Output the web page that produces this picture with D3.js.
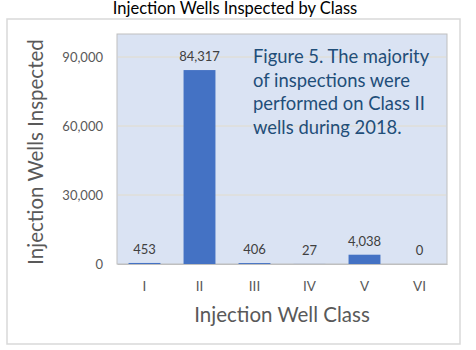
<!DOCTYPE html>
<html><head><meta charset="utf-8">
<script src="https://cdn.jsdelivr.net/npm/d3@7"></script>
<style>body{margin:0;background:#fff}svg{display:block}text{font-family:Lato,"Open Sans",sans-serif}</style>
</head><body>
<script>
const categories = ["I","II","III","IV","V","VI"];
const values = [453, 84317, 406, 27, 4038, 0];
const yTicks = [0, 30000, 60000, 90000];
const title = "Injection Wells Inspected by Class";
const xTitle = "Injection Well Class";
const yTitle = "Injection Wells Inspected";
const note = ["Figure 5. The majority","of inspections were","performed on Class II","wells during 2018."];

const W = 476, H = 350;
const m = {left:117, right:447, top:34, bottom:264};
const svg = d3.select("body").append("svg").attr("width",W).attr("height",H);

svg.append("text").attr("x",235).attr("y",14).attr("text-anchor","middle")
  .attr("font-size",16.5).attr("fill","#000").text(title);

svg.append("rect").attr("x",7).attr("y",19).attr("width",453).attr("height",325)
  .attr("fill","#fff").attr("stroke","#d9d9d9").attr("stroke-width",1.5);

const x = d3.scaleBand().domain(categories).range([m.left,m.right]).paddingInner(0.42).paddingOuter(0.21);
const y = d3.scaleLinear().domain([0,100000]).range([m.bottom,m.top]);

svg.append("rect").attr("x",m.left).attr("y",m.top).attr("width",m.right-m.left).attr("height",m.bottom-m.top)
  .attr("fill","#dae3f3").attr("stroke","#bfbfbf").attr("stroke-width",1);

svg.append("g").selectAll("line").data(yTicks.filter(d=>d>0)).join("line")
  .attr("x1",m.left+1).attr("x2",m.right-1).attr("y1",d=>y(d)).attr("y2",d=>y(d))
  .attr("stroke","#e2dccb").attr("stroke-width",1);

const yAxis = svg.append("g").attr("transform",`translate(${m.left},0)`)
  .call(d3.axisLeft(y).tickValues(yTicks).tickSize(0).tickPadding(14).tickFormat(d3.format(",")));
yAxis.select(".domain").remove();
yAxis.selectAll("text").attr("font-size",13).attr("fill","#595959").attr("font-family","Lato");

const xAxis = svg.append("g").attr("transform",`translate(0,${m.bottom})`)
  .call(d3.axisBottom(x).tickSize(0).tickPadding(17));
xAxis.select(".domain").attr("stroke","#bfbfbf");
xAxis.selectAll("text").attr("font-size",13.5).attr("fill","#595959").attr("font-family","Lato");

svg.append("g").selectAll("rect").data(values).join("rect")
  .attr("x",(d,i)=>x(categories[i])).attr("width",x.bandwidth())
  .attr("y",d=>y(d)).attr("height",d=>y(0)-y(d)).attr("fill","#4472c4");

svg.append("g").selectAll("text").data(values).join("text")
  .attr("x",(d,i)=>x(categories[i])+x.bandwidth()/2).attr("y",d=>y(d)-9)
  .attr("text-anchor","middle").attr("font-size",13).attr("fill","#404040")
  .text(d=>d3.format(",")(d));

svg.append("text").attr("transform",`translate(${(m.left+m.right)/2},322)`).attr("text-anchor","middle")
  .attr("font-size",20.5).attr("fill","#595959").text(xTitle);
svg.append("text").attr("transform",`translate(43,152) rotate(-90)`).attr("text-anchor","middle")
  .attr("font-size",20.5).attr("fill","#595959").text(yTitle);

svg.append("g").selectAll("text").data(note).join("text")
  .attr("x",253).attr("y",(d,i)=>63+i*23.5).attr("font-size",18.4).attr("fill","#1f4e79").text(d=>d);
</script>
</body></html>
